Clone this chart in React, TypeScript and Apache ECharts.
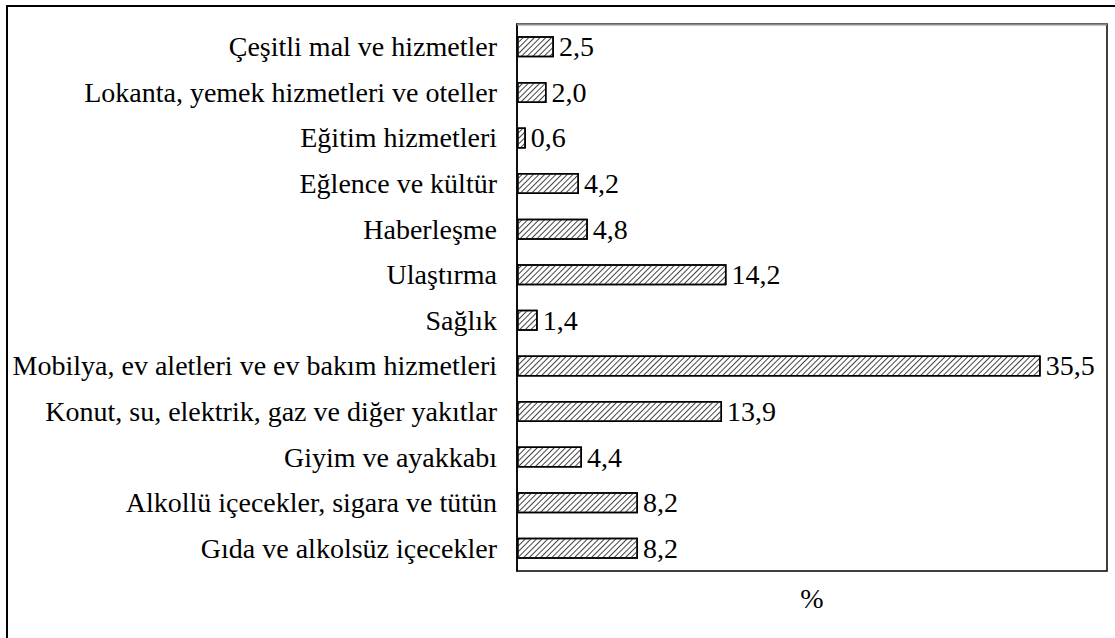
import React, { useEffect, useRef } from "react";
import * as echarts from "echarts";

const categories = [
  "Gıda ve alkolsüz içecekler",
  "Alkollü içecekler, sigara ve tütün",
  "Giyim ve ayakkabı",
  "Konut, su, elektrik, gaz ve diğer yakıtlar",
  "Mobilya, ev aletleri ve ev bakım hizmetleri",
  "Sağlık",
  "Ulaştırma",
  "Haberleşme",
  "Eğlence ve kültür",
  "Eğitim hizmetleri",
  "Lokanta, yemek hizmetleri ve oteller",
  "Çeşitli mal ve hizmetler",
];
const values = [8.2, 8.2, 4.4, 13.9, 35.5, 1.4, 14.2, 4.8, 4.2, 0.6, 2.0, 2.5];
const axisName = "%";

const FONT = "Liberation Serif";
const FS = 28;

export default function App() {
  const ref = useRef<HTMLDivElement>(null);
  useEffect(() => {
    if (!ref.current) return;
    const chart = echarts.init(ref.current, undefined, { renderer: "svg" });
    chart.setOption({
      animation: false,
      backgroundColor: "#fff",
      graphic: [
        {
          type: "rect",
          shape: { x: 7, y: 6, width: 1200, height: 700 },
          style: { fill: "none", stroke: "#000", lineWidth: 2 },
          silent: true,
        },
        {
          type: "line",
          shape: { x1: 517, y1: 24.5, x2: 1107, y2: 24.5 },
          style: { stroke: "#8a8a8a", lineWidth: 2 },
          silent: true,
          z: 100,
        },
      ],
      grid: {
        left: 517,
        top: 24,
        right: 8,
        bottom: 67,
        show: true,
        borderColor: "#000",
        borderWidth: 1.5,
      },
      xAxis: {
        type: "value",
        min: 0,
        max: 40,
        name: axisName,
        nameLocation: "middle",
        nameGap: 13,
        nameTextStyle: { fontFamily: FONT, fontSize: FS, color: "#000" },
        axisLabel: { show: false },
        axisTick: { show: false },
        axisLine: { show: false },
        splitLine: { show: false },
      },
      yAxis: {
        type: "category",
        data: categories,
        axisTick: { show: false },
        axisLine: { show: true, lineStyle: { color: "#000", width: 1.5 } },
        axisLabel: {
          fontFamily: FONT,
          fontSize: FS,
          color: "#000",
          margin: 20,
        },
      },
      series: [
        {
          type: "bar",
          data: values,
          barWidth: 21,
          itemStyle: {
            color: "#fff",
            borderColor: "#000",
            borderWidth: 1.5,
            decal: {
              symbol: "rect",
              symbolSize: 1,
              color: "#444",
              dashArrayX: [1, 0],
              dashArrayY: [1, 2.2],
              rotation: -Math.PI / 4,
            },
          },
          label: {
            show: true,
            position: "right",
            distance: 5,
            fontFamily: FONT,
            fontSize: FS,
            color: "#000",
            formatter: (p: any) => p.value.toFixed(1).replace(".", ","),
          },
        },
      ],
    });
    return () => chart.dispose();
  }, []);
  return (
    <div
      ref={ref}
      style={{ position: "fixed", left: 0, top: 0, width: 1115, height: 638 }}
    />
  );
}
